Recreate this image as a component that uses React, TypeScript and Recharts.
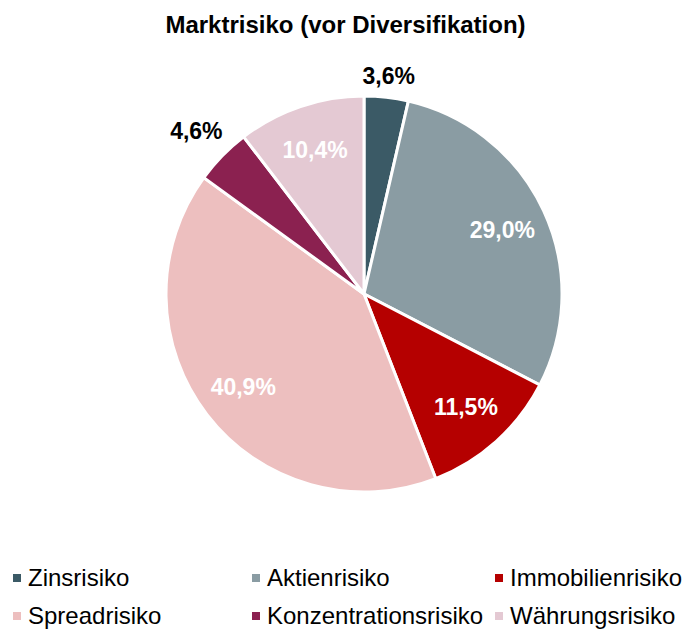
import React from "react";
import { PieChart, Pie, Cell, Legend } from "recharts";

const categories = ["Zinsrisiko", "Aktienrisiko", "Immobilienrisiko", "Spreadrisiko", "Konzentrationsrisiko", "Währungsrisiko"];
const values = [3.6, 29.0, 11.5, 40.9, 4.6, 10.4];
const colors = ["#3B5A66", "#8A9CA3", "#B50000", "#EDBFBF", "#8B2150", "#E4C9D3"];
const title = "Marktrisiko (vor Diversifikation)";

const data = categories.map((name, i) => ({ name, value: values[i] }));

const FONT = "'Liberation Sans', Arial, sans-serif";
const RAD = Math.PI / 180;

const renderLabel = (props: any) => {
  const { cx, cy, midAngle, outerRadius, value } = props;
  const small = value < 5;
  const c = Math.cos(-midAngle * RAD);
  const s = Math.sin(-midAngle * RAD);
  const r = small ? outerRadius + 7 + 30 * Math.abs(c) + 11 * Math.abs(s) : outerRadius * 0.77;
  const x = cx + r * c;
  const y = cy + r * s;
  return (
    <text
      x={x}
      y={y}
      textAnchor="middle"
      dominantBaseline="central"
      fill={small ? "#000000" : "#FFFFFF"}
      fontFamily={FONT}
      fontWeight="bold"
      fontSize={23}
    >
      {value.toFixed(1).replace(".", ",") + "%"}
    </text>
  );
};

const colX = [13, 252, 495];
const rowY = [578, 616];

const renderLegend = () => (
  <div style={{ position: "relative", width: 683, height: 70 }}>
    {categories.map((name, i) => {
      const col = i % 3;
      const row = Math.floor(i / 3);
      return (
        <div
          key={name}
          style={{
            position: "absolute",
            left: colX[col],
            top: rowY[row] - 560 - 14,
            height: 28,
            display: "flex",
            alignItems: "center",
            fontFamily: FONT,
            fontSize: 24,
            color: "#000",
            whiteSpace: "nowrap",
          }}
        >
          <span style={{ display: "inline-block", width: 8, height: 8, background: colors[i], marginRight: 7 }} />
          <span>{name}</span>
        </div>
      );
    })}
  </div>
);

export default function App() {
  return (
    <div style={{ position: "absolute", left: 0, top: 0, width: 683, height: 630, background: "#fff", overflow: "hidden" }}>
      <div
        style={{
          position: "absolute",
          left: 0,
          top: 11,
          width: 691,
          textAlign: "center",
          fontFamily: FONT,
          fontWeight: "bold",
          fontSize: 24,
          lineHeight: "28px",
          color: "#000",
          whiteSpace: "nowrap",
        }}
      >
        {title}
      </div>
      <PieChart width={683} height={630} margin={{ top: 0, right: 0, bottom: 0, left: 0 }}>
        <Pie
          data={data}
          dataKey="value"
          nameKey="name"
          cx={364}
          cy={294}
          outerRadius={198}
          startAngle={90}
          endAngle={-270}
          stroke="#FFFFFF"
          strokeWidth={3}
          label={renderLabel}
          labelLine={false}
          isAnimationActive={false}
        >
          {data.map((d, i) => (
            <Cell key={d.name} fill={colors[i]} />
          ))}
        </Pie>
        <Legend
          content={renderLegend}
          wrapperStyle={{ position: "absolute", left: 0, top: 560, width: 683, height: 70 }}
        />
      </PieChart>
    </div>
  );
}
